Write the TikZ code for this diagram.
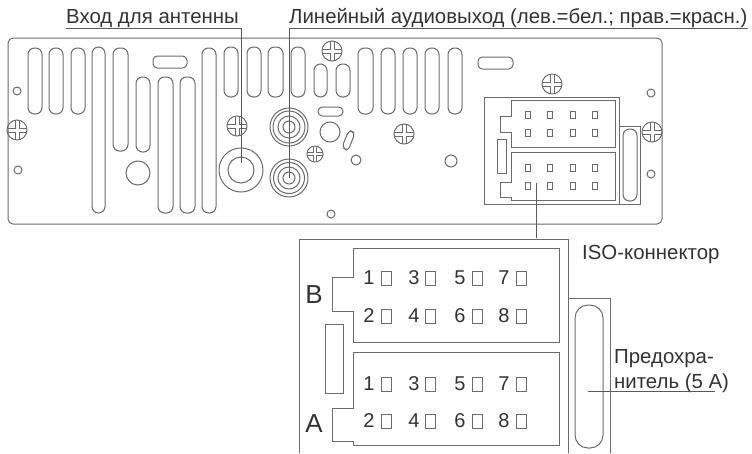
\documentclass[tikz,border=0pt]{standalone}
\usepackage{fontspec}
\setmainfont{Liberation Sans}
\definecolor{linegray}{gray}{0.42}
\definecolor{textgray}{gray}{0.2}
\tikzset{
    plate/.style={draw=linegray,line width=1pt},
    ring/.style={circle,draw=linegray,line width=1pt,inner sep=0pt,minimum size=#1},
    leader/.style={draw=black!65,line width=1pt},
    caption/.style={text=textgray,inner sep=0pt,font=\fontsize{20.4}{25}\selectfont},
    pinnum/.style={text=textgray,inner sep=0pt,font=\fontsize{20}{22}\selectfont},
    letter/.style={text=textgray,inner sep=0pt,font=\fontsize{26}{28}\selectfont},
    screw/.pic={
        \draw[plate] (0,0) circle (10);
        \draw[plate,line width=0.6pt] (-10,-2)--(-2,-2)--(-2,-10) (2,-10)--(2,-2)--(10,-2)
            (10,2)--(2,2)--(2,10) (-2,10)--(-2,2)--(-10,2);
    },
}
\begin{document}
\begin{tikzpicture}[x=1pt,y=-1pt]
    \useasboundingbox (0,0) rectangle (752,453);
    % back panel
    \draw[plate,rounded corners=5] (8,38) rectangle (662,224);
    \foreach \xa/\ya/\xb/\yb in {28/48/42/114,49/48/63/114,71/48/85/114,92/47/105/213,113/48/128/151,
        136/77/150/152,158/77/173/213,180/77/195/213,202/48/216/213,224/47/238/97,247/47/261/97,
        268/47/283/97,291/47/305/97,314/64/327/97,336/64/350/97,358/48/373/114,381/48/395/114,
        403/48/417/114,425/48/439/114,448/48/462/114}
        \draw[plate,rounded corners=6.5] (\xa,\ya) rectangle (\xb,\yb);
    \foreach \xa/\ya/\xb/\yb in {153/56/187/68,318/107/343/116,478/57/513/69}
        \draw[plate,rounded corners=4.4] (\xa,\ya) rectangle (\xb,\yb);
    \draw[plate,rounded corners=3.9] (355,133) -- (349,130) -- (342,147) -- (348,151) -- cycle;
    % holes
    \foreach \n/\x/\y/\s in {a/17/91/8,b/18/170/8,c/138/173/24,d/330/132/20,e/356/160/10,
        f/331/214/8,g/451/161/12,h/651/93/8,i/651/174/8}
        \node[ring=\s] (hole\n) at (\x,\y) {};
    % screws
    \foreach \x/\y in {17/130,237/126,332/51,404/134,552/84,652/132}
        \pic at (\x,\y) {screw};
    \pic[scale=0.8] at (315,154) {screw};
    % jacks
    \node[ring=44] (ant) at (241,170) {};
    \node[ring=26] (antin) at (241,170) {};
    \foreach \s in {38,32,22,12}
        \node[ring=\s] (audl\s) at (289,127) {};
    \foreach \s in {38,31,22,12}
        \node[ring=\s] (audr\s) at (289,178) {};
    % iso block on panel
    \draw[plate] (484,97) rectangle (619,204);
    \draw[plate] (619,126) rectangle (640,204);
    \draw[plate,rounded corners=6.5] (623,129) rectangle (637,201);
    \draw[plate] (497,139) rectangle (506,173);
    \draw[plate] (511,100) -- (615,100) -- (615,147) -- (511,147) -- (511,132) -- (500,132) -- (500,116) -- (511,116) -- cycle;
    \draw[plate] (511,152) -- (615,152) -- (615,200) -- (511,200) -- (511,197) -- (500,197) -- (500,182) -- (511,182) -- cycle;
    \foreach \x in {528,550,573,595}
        \foreach \y in {115,133,168,186}
            \draw[plate,line width=0.7pt] (\x-2.5,\y-3.5) rectangle (\x+2.5,\y+3.5);
    % enlarged connector
    \coordinate (zoomtl) at (299,453);
    \coordinate (zoomtr) at (568,453);
    \node[inner sep=0pt] (zoomtop) at (536,239) {};
    \draw[plate] (zoomtl) -- (299,239) -- (568,239) -- (zoomtr);
    \draw[plate] (568,298) -- (610,298) -- (610,453);
    \draw[plate,rounded corners=13] (575,305) rectangle (603,448);
    \draw[plate] (325,324) rectangle (343,393);
    \draw[plate] (353,248) -- (559,248) -- (559,342) -- (353,342) -- (353,311) -- (332,311) -- (332,277) -- (353,277) -- cycle;
    \draw[plate] (353,352) -- (559,352) -- (559,445) -- (353,445) -- (353,441) -- (332,441) -- (332,408) -- (353,408) -- cycle;
    \node[letter] (letb) at (314,295) {B};
    \node[letter] (leta) at (314,424) {A};
    \foreach \n/\x/\px in {1/369/386,3/414/430,5/460/477,7/504/521}
        \foreach \r/\y in {b/278,a/384}{
            \node[pinnum] (num\r\n) at (\x,\y) {\n};
            \draw[plate,line width=0.7pt] (\px-5,\y-7) rectangle (\px+5,\y+7);
        }
    \foreach \n/\x/\px in {2/369/386,4/414/430,6/460/477,8/504/521}
        \foreach \r/\y in {b/316,a/421}{
            \node[pinnum] (num\r\n) at (\x,\y) {\n};
            \draw[plate,line width=0.7pt] (\px-5,\y-7) rectangle (\px+5,\y+7);
        }
    % captions and leaders
    \node[caption,anchor=base west] (antlabel) at (66,23) {Вход для антенны};
    \node[caption,anchor=base west] (audlabel) at (289,23) {Линейный аудиовыход (лев.=бел.; прав.=красн.)};
    \node[caption,anchor=base west] (isolabel) at (582,259) {ISO-коннектор};
    \node[caption,anchor=north west,align=left] (fuselabel) at (614,349) {Предохра-\\нитель (5 A)};
    \coordinate (antcorner) at (241,28);
    \coordinate (audstart) at (289,28);
    \coordinate (audend) at (748,28);
    \coordinate (antstart) at (66,28);
    \coordinate (antend) at (241,163);
    \coordinate (audjack) at (289,178);
    \coordinate (isostart) at (536,183);
    \coordinate (fusestart) at (588,391);
    \coordinate (fuseend) at (715,391);
    \draw[leader] (antstart) -- (antcorner) -- (antend);
    \draw[leader] (audend) -- (audstart) -- (audjack);
    \draw[leader] (isostart) -- (zoomtop);
    \draw[leader] (fusestart) -- (fuseend);
\end{tikzpicture}
\end{document}
